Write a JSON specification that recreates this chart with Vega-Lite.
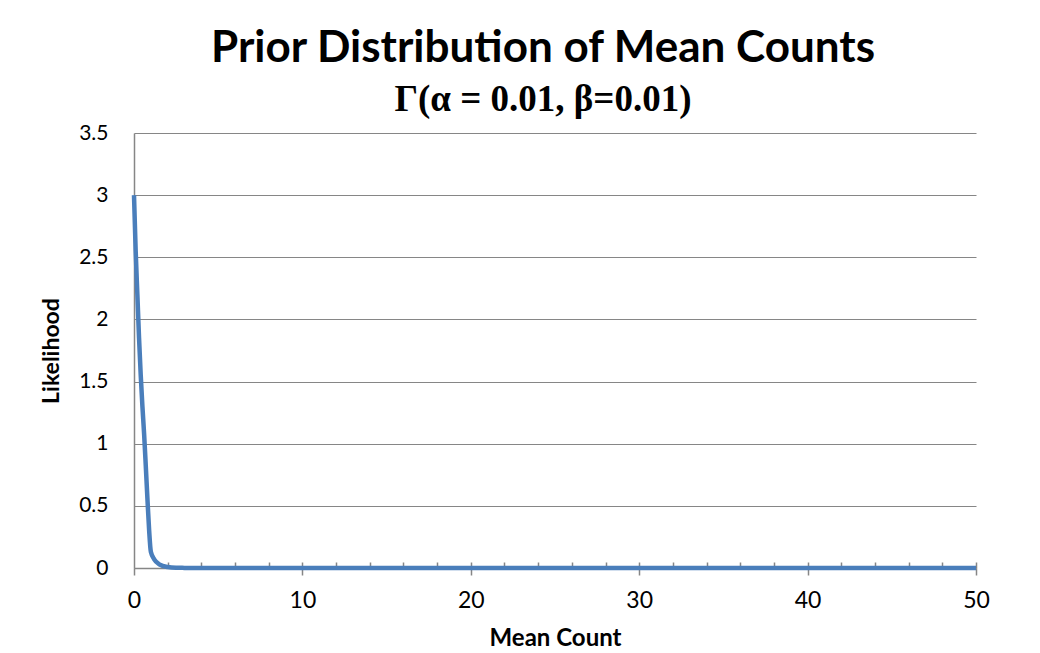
{
  "$schema": "https://vega.github.io/schema/vega-lite/v6.json",
  "autosize": {"type": "none"},
  "width": 842,
  "height": 435,
  "padding": {"left": 134, "top": 133, "right": 64, "bottom": 85},
  "background": "white",
  "title": {
    "text": "Prior Distribution of Mean Counts",
    "subtitle": "Γ(α = 0.01, β=0.01)",
    "anchor": "middle",
    "frame": "group",
    "dx": -12,
    "font": "Lato",
    "fontSize": 44,
    "fontWeight": "bold",
    "color": "black",
    "subtitleFont": "Liberation Serif",
    "subtitleFontSize": 37,
    "subtitleFontWeight": "bold",
    "subtitleColor": "black",
    "subtitlePadding": 11,
    "offset": 4
  },
  "config": {
    "view": {"stroke": null},
    "axis": {"labelFont": "Lato", "titleFont": "Lato", "labelColor": "black", "titleColor": "black"}
  },
  "data": {
    "values": [
      {"mean_count": 0, "likelihood": 3.0},
      {"mean_count": 0.1, "likelihood": 2.55},
      {"mean_count": 0.2, "likelihood": 2.2},
      {"mean_count": 0.3, "likelihood": 1.85},
      {"mean_count": 0.4, "likelihood": 1.55},
      {"mean_count": 0.5, "likelihood": 1.3},
      {"mean_count": 0.6, "likelihood": 1.08},
      {"mean_count": 0.7, "likelihood": 0.82},
      {"mean_count": 0.8, "likelihood": 0.55},
      {"mean_count": 0.9, "likelihood": 0.3},
      {"mean_count": 1.0, "likelihood": 0.13},
      {"mean_count": 1.2, "likelihood": 0.07},
      {"mean_count": 1.5, "likelihood": 0.03},
      {"mean_count": 2.0, "likelihood": 0.008},
      {"mean_count": 2.5, "likelihood": 0.002},
      {"mean_count": 3, "likelihood": 0.001},
      {"mean_count": 4, "likelihood": 0},
      {"mean_count": 5, "likelihood": 0},
      {"mean_count": 6, "likelihood": 0},
      {"mean_count": 7, "likelihood": 0},
      {"mean_count": 8, "likelihood": 0},
      {"mean_count": 9, "likelihood": 0},
      {"mean_count": 10, "likelihood": 0},
      {"mean_count": 12, "likelihood": 0},
      {"mean_count": 14, "likelihood": 0},
      {"mean_count": 16, "likelihood": 0},
      {"mean_count": 18, "likelihood": 0},
      {"mean_count": 20, "likelihood": 0},
      {"mean_count": 22, "likelihood": 0},
      {"mean_count": 24, "likelihood": 0},
      {"mean_count": 26, "likelihood": 0},
      {"mean_count": 28, "likelihood": 0},
      {"mean_count": 30, "likelihood": 0},
      {"mean_count": 32, "likelihood": 0},
      {"mean_count": 34, "likelihood": 0},
      {"mean_count": 36, "likelihood": 0},
      {"mean_count": 38, "likelihood": 0},
      {"mean_count": 40, "likelihood": 0},
      {"mean_count": 42, "likelihood": 0},
      {"mean_count": 44, "likelihood": 0},
      {"mean_count": 46, "likelihood": 0},
      {"mean_count": 48, "likelihood": 0},
      {"mean_count": 50, "likelihood": 0}
    ]
  },
  "layer": [
    {
      "mark": {"type": "line", "color": "#4A7EBB", "strokeWidth": 4.5, "interpolate": "monotone", "strokeCap": "butt", "strokeJoin": "round"},
      "encoding": {
        "x": {
          "field": "mean_count", "type": "quantitative",
          "scale": {"domain": [0, 50], "nice": false},
          "axis": {
            "title": "Mean Count", "titleFontSize": 24, "titleFontWeight": "bold", "titlePadding": 14,
            "values": [0, 10, 20, 30, 40, 50], "labelFontSize": 23, "labelPadding": 14, "labelFlush": false,
            "tickSize": 7, "tickColor": "#868686", "tickWidth": 1.5,
            "domainColor": "#868686", "domainWidth": 1.5, "grid": false
          }
        },
        "y": {
          "field": "likelihood", "type": "quantitative",
          "scale": {"domain": [0, 3.5], "nice": false},
          "axis": {
            "title": "Likelihood", "titleFontSize": 23, "titleFontWeight": "bold", "titlePadding": 15,
            "values": [0, 0.5, 1, 1.5, 2, 2.5, 3, 3.5], "format": "~g", "labelFontSize": 21, "labelPadding": 26, "labelFlush": false,
            "tickSize": 0, "domainColor": "#868686", "domainWidth": 1.5,
            "grid": true, "gridColor": "#868686", "gridWidth": 1.2
          }
        }
      }
    },
    {
      "mark": {"type": "rule", "opacity": 0},
      "encoding": {
        "x": {
          "field": "mean_count", "type": "quantitative",
          "axis": {
            "orient": "bottom", "title": null, "labels": false, "domain": false, "grid": false,
            "values": [2, 4, 6, 8, 10, 12, 14, 16, 18, 20, 22, 24, 26, 28, 30, 32, 34, 36, 38, 40, 42, 44, 46, 48, 50],
            "tickSize": -6, "tickColor": "#868686", "tickWidth": 1.5
          }
        }
      }
    }
  ],
  "resolve": {"axis": {"x": "independent"}}
}
